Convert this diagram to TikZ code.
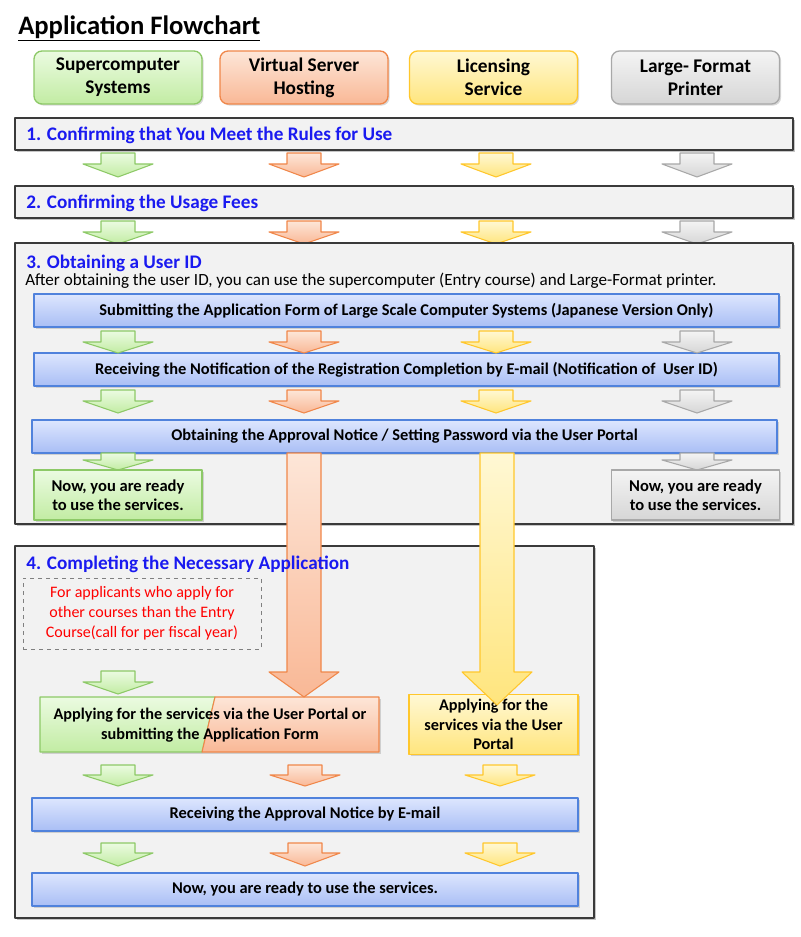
\documentclass[tikz,border=0pt]{standalone}
\usepackage{fontspec}
\setmainfont{Carlito}
\usetikzlibrary{shadows}
\definecolor{grnline}{HTML}{8DC967}\definecolor{grntop}{HTML}{EBFBE1}\definecolor{grnbot}{HTML}{C2ECA3}
\definecolor{orgline}{HTML}{F0874A}\definecolor{orgtop}{HTML}{FDE6D8}\definecolor{orgbot}{HTML}{F9B896}
\definecolor{yelline}{HTML}{FFC72C}\definecolor{yeltop}{HTML}{FFF8D4}\definecolor{yelbot}{HTML}{FFE57D}
\definecolor{gryline}{HTML}{A8A8A8}\definecolor{grytop}{HTML}{F4F4F4}\definecolor{grybot}{HTML}{D6D6D6}
\definecolor{bluline}{HTML}{5082DC}\definecolor{blutop}{HTML}{DDE6FE}\definecolor{blubot}{HTML}{A9BEF5}
\definecolor{secfill}{HTML}{F2F2F2}\definecolor{secline}{HTML}{3A3A3A}
\definecolor{steptext}{HTML}{1A1AF0}
% block arrow: style, x, top, head, tip
\newcommand{\blockarrow}[5]{\draw[#1] (#2-17,#3) -- (#2+17,#3) -- (#2+17,#4) -- (#2+35,#4) -- (#2,#5) -- (#2-35,#4) -- (#2-17,#4) -- cycle;}
\begin{document}
\begin{tikzpicture}[x=0.75pt,y=-0.75pt,line join=round,
	shade/.style={drop shadow={opacity=.3,shadow xshift=1.2pt,shadow yshift=-1.2pt}},
	grn/.style={draw=grnline,top color=grntop,bottom color=grnbot},
	org/.style={draw=orgline,top color=orgtop,bottom color=orgbot},
	yel/.style={draw=yelline,top color=yeltop,bottom color=yelbot},
	gry/.style={draw=gryline,top color=grytop,bottom color=grybot},
	blu/.style={draw=bluline,top color=blutop,bottom color=blubot},
	head/.style={rounded corners=6pt,line width=1pt,minimum width=126pt,minimum height=39.75pt,align=center,font=\bfseries\fontsize{14.5}{17.25}\selectfont,shade},
	secbox/.style={draw=secline,fill=secfill,line width=1pt,drop shadow={opacity=.45,shadow xshift=1.5pt,shadow yshift=-1.5pt}},
	steptitle/.style={anchor=west,inner sep=0pt,text=steptext,font=\bfseries\fontsize{14.4}{16}\selectfont},
	bar/.style={blu,line width=.8pt,minimum height=24.75pt,font=\bfseries\fontsize{12.3}{14}\selectfont,shade},
	ready/.style={line width=.8pt,minimum width=126pt,minimum height=37.5pt,align=center,font=\bfseries\fontsize{12.4}{14.25}\selectfont,shade},
	arr/.style={line width=.8pt}]
	\useasboundingbox (0,0) rectangle (800,937);
	%Title
	\node[anchor=base west,inner sep=0pt,font=\bfseries\fontsize{20}{24}\selectfont] (title) at (18,34.5) {\underline{Application Flowchart}};
	%Services
	\node[head,grn] (hsc) at (118,77.5) {\rule{0pt}{4pt}Supercomputer\\Systems};
	\node[head,org] (hvs) at (304,77.5) {\rule{0pt}{4pt}Virtual Server\\Hosting};
	\node[head,yel] (hls) at (493.5,77.5) {Licensing\\Service};
	\node[head,gry] (hlf) at (695.5,77.5) {Large- Format\\Printer};
	%Step 1 and 2
	\draw[secbox] (15,118) rectangle (793,150);
	\node[steptitle] (t1) at (26,135.5) {1. Confirming that You Meet the Rules for Use};
	\draw[secbox] (15,186) rectangle (793,218);
	\node[steptitle] (t2) at (26,203.5) {2. Confirming the Usage Fees};
	\foreach \y/\h/\t in {153/164/177,221/232/244}{
		\blockarrow{grn,arr}{118}{\y}{\h}{\t}
		\blockarrow{org,arr}{304}{\y}{\h}{\t}
		\blockarrow{yel,arr}{496}{\y}{\h}{\t}
		\blockarrow{gry,arr}{697}{\y}{\h}{\t}
	}
	%Step 3
	\draw[secbox] (15,243) rectangle (793,524);
	\node[steptitle] (t3) at (26,263) {3. Obtaining a User ID};
	\node[anchor=west,inner sep=0pt,font=\fontsize{12.8}{14}\selectfont] (note3) at (25,280.5) {After obtaining the user ID, you can use the supercomputer (Entry course) and Large-Format printer.};
	\node[bar,minimum width=558.75pt] (b1) at (406.5,310.5) {Submitting the Application Form of Large Scale Computer Systems (Japanese Version Only)};
	\node[bar,minimum width=558.75pt] (b2) at (406.5,369.5) {Receiving the Notification of the Registration Completion by E-mail (Notification of\ \ User ID)};
	\node[bar,minimum width=558.75pt] (b3) at (404.5,436.5) {Obtaining the Approval Notice / Setting Password via the User Portal};
	\foreach \y/\h/\t in {331/342/353,390/401/413}{
		\blockarrow{grn,arr}{118}{\y}{\h}{\t}
		\blockarrow{org,arr}{304}{\y}{\h}{\t}
		\blockarrow{yel,arr}{496}{\y}{\h}{\t}
		\blockarrow{gry,arr}{697}{\y}{\h}{\t}
	}
	\blockarrow{grn,arr}{118}{453}{460}{470}
	\blockarrow{gry,arr}{697}{453}{460}{470}
	\node[ready,grn] (rsc) at (118,495) {Now, you are ready\\to use the services.};
	\node[ready,gry] (rlf) at (695.5,495) {Now, you are ready\\to use the services.};
	%Step 4
	\draw[secbox] (15,546) rectangle (594,918);
	\node[draw=gray,dashed,minimum width=178.5pt,minimum height=53.25pt,align=center,text=red,font=\fontsize{12}{15}\selectfont] (cond) at (142,613.5) {For applicants who apply for\\other courses than the Entry\\Course(call for per fiscal year)};
	\blockarrow{grn,arr}{118}{671}{682}{694}
	\path[shade] (40,697) rectangle (379,752);
	\draw[grn,line width=.8pt] (40,697) -- (215,697) -- (202,752) -- (40,752) -- cycle;
	\draw[org,line width=.8pt] (215,697) -- (379,697) -- (379,752) -- (202,752) -- cycle;
	\node[align=center,font=\bfseries\fontsize{12.2}{15}\selectfont] (apsv) at (210,725) {Applying for the services via the User Portal or\\submitting the Application Form};
	\node[ready,yel,minimum width=126.75pt,minimum height=41.25pt,font=\bfseries\fontsize{12.2}{14.6}\selectfont] (apls) at (493.5,724.5) {Applying for the\\services via the User\\Portal};
	\foreach \y/\h/\t in {765/775/786,843/853/866}{
		\blockarrow{grn,arr}{118}{\y}{\h}{\t}
		\blockarrow{org,arr}{305}{\y}{\h}{\t}
		\blockarrow{yel,arr}{500}{\y}{\h}{\t}
	}
	\node[bar,minimum width=409.5pt] (b4) at (305,814.5) {Receiving the Approval Notice by E-mail};
	\node[bar,minimum width=409.5pt] (b5) at (305,889.5) {Now, you are ready to use the services.};
	%Long arrows
	\blockarrow{org,arr}{304}{453}{672}{697}
	\blockarrow{yel,arr}{497}{453}{672}{705}
	\node[steptitle] (t4) at (26,564) {4. Completing the Necessary Application};
\end{tikzpicture}
\end{document}
